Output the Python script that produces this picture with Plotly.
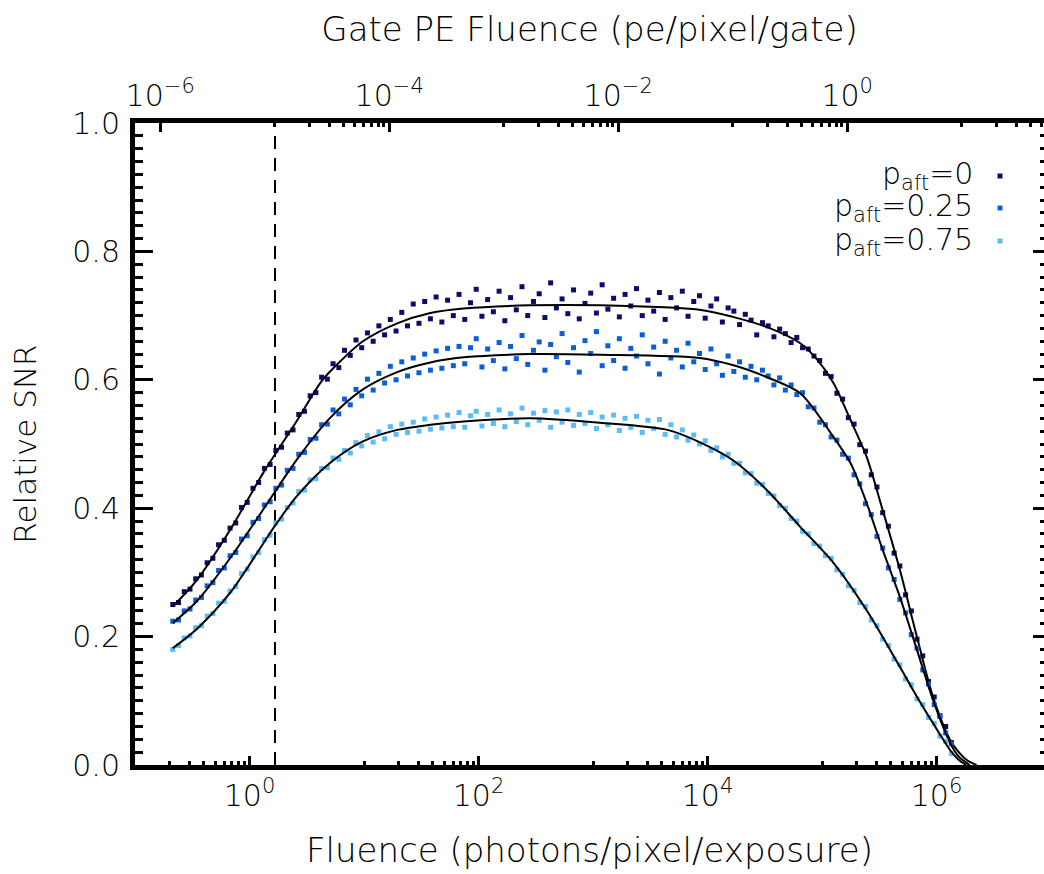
import numpy as np
import plotly.graph_objects as go

# ---------------- data ----------------
# log10 of fluence (photons/pixel/exposure) of the simulated points
LOG_FLUENCE = [
    -0.67, -0.62, -0.57, -0.52, -0.47, -0.42, -0.37, -0.32, -0.27, -0.22,
    -0.17, -0.12, -0.07, -0.02, 0.03, 0.08, 0.13, 0.18, 0.23, 0.28,
    0.33, 0.38, 0.43, 0.48, 0.53, 0.58, 0.63, 0.68, 0.73, 0.78,
    0.83, 0.88, 0.93, 0.98, 1.03, 1.08, 1.13, 1.18, 1.23, 1.28,
    1.33, 1.38, 1.43, 1.48, 1.53, 1.58, 1.63, 1.68, 1.73, 1.78,
    1.83, 1.88, 1.93, 1.98, 2.03, 2.08, 2.13, 2.18, 2.23, 2.28,
    2.33, 2.38, 2.43, 2.48, 2.53, 2.58, 2.63, 2.68, 2.73, 2.78,
    2.83, 2.88, 2.93, 2.98, 3.03, 3.08, 3.13, 3.18, 3.23, 3.28,
    3.33, 3.38, 3.43, 3.48, 3.53, 3.58, 3.63, 3.68, 3.73, 3.78,
    3.83, 3.88, 3.93, 3.98, 4.03, 4.08, 4.13, 4.18, 4.23, 4.28,
    4.33, 4.38, 4.43, 4.48, 4.53, 4.58, 4.63, 4.68, 4.73, 4.78,
    4.83, 4.88, 4.93, 4.98, 5.03, 5.08, 5.13, 5.18, 5.23, 5.28,
    5.33, 5.38, 5.43, 5.48, 5.53, 5.58, 5.63, 5.68, 5.73, 5.78,
    5.83, 5.88, 5.93, 5.98, 6.03, 6.08, 6.13,
]

SNR_P0 = [
    0.250, 0.253, 0.270, 0.274, 0.290, 0.296, 0.315, 0.322, 0.343, 0.350,
    0.369, 0.377, 0.401, 0.409, 0.431, 0.440, 0.462, 0.468, 0.490, 0.495,
    0.517, 0.522, 0.546, 0.551, 0.575, 0.580, 0.604, 0.601, 0.625, 0.619,
    0.646, 0.638, 0.662, 0.650, 0.673, 0.660, 0.684, 0.670, 0.694, 0.676,
    0.705, 0.684, 0.718, 0.688, 0.722, 0.695, 0.729, 0.690, 0.724, 0.700,
    0.733, 0.694, 0.720, 0.741, 0.699, 0.725, 0.706, 0.738, 0.692, 0.728,
    0.709, 0.745, 0.700, 0.722, 0.734, 0.697, 0.751, 0.712, 0.726, 0.703,
    0.740, 0.695, 0.719, 0.735, 0.704, 0.748, 0.710, 0.727, 0.698, 0.733,
    0.715, 0.742, 0.700, 0.724, 0.707, 0.736, 0.694, 0.728, 0.712, 0.738,
    0.699, 0.722, 0.731, 0.696, 0.715, 0.726, 0.690, 0.712, 0.707, 0.686,
    0.702, 0.693, 0.670, 0.689, 0.684, 0.667, 0.679, 0.672, 0.658, 0.666,
    0.650, 0.648, 0.637, 0.630, 0.610, 0.605, 0.579, 0.570, 0.541, 0.531,
    0.499, 0.489, 0.452, 0.433, 0.393, 0.372, 0.330, 0.310, 0.265, 0.240,
    0.196, 0.170, 0.130, 0.106, 0.076, 0.060, 0.035,
]

SNR_P025 = [
    0.224, 0.226, 0.240, 0.243, 0.257, 0.261, 0.279, 0.284, 0.303, 0.307,
    0.326, 0.331, 0.352, 0.357, 0.378, 0.384, 0.405, 0.410, 0.431, 0.436,
    0.459, 0.462, 0.484, 0.487, 0.507, 0.509, 0.530, 0.531, 0.553, 0.547,
    0.570, 0.561, 0.585, 0.575, 0.601, 0.584, 0.610, 0.595, 0.621, 0.600,
    0.628, 0.606, 0.634, 0.611, 0.640, 0.615, 0.645, 0.618, 0.649, 0.622,
    0.652, 0.625, 0.650, 0.664, 0.620, 0.648, 0.630, 0.658, 0.617, 0.652,
    0.633, 0.669, 0.624, 0.646, 0.659, 0.615, 0.655, 0.636, 0.672, 0.627,
    0.650, 0.612, 0.661, 0.641, 0.675, 0.622, 0.653, 0.630, 0.664, 0.618,
    0.649, 0.637, 0.670, 0.625, 0.651, 0.609, 0.660, 0.634, 0.646, 0.620,
    0.657, 0.628, 0.641, 0.616, 0.648, 0.625, 0.607, 0.637, 0.613, 0.628,
    0.604, 0.621, 0.600, 0.615, 0.606, 0.592, 0.603, 0.584, 0.592, 0.577,
    0.580, 0.558, 0.556, 0.534, 0.530, 0.511, 0.506, 0.484, 0.478, 0.452,
    0.438, 0.407, 0.390, 0.356, 0.338, 0.307, 0.289, 0.258, 0.237, 0.203,
    0.182, 0.148, 0.126, 0.094, 0.077, 0.050, 0.033,
]

SNR_P075 = [
    0.180, 0.186, 0.198, 0.201, 0.214, 0.217, 0.232, 0.236, 0.252, 0.255,
    0.271, 0.278, 0.298, 0.305, 0.324, 0.331, 0.351, 0.358, 0.377, 0.383,
    0.401, 0.408, 0.426, 0.428, 0.444, 0.446, 0.462, 0.463, 0.478, 0.476,
    0.490, 0.486, 0.502, 0.497, 0.513, 0.503, 0.519, 0.508, 0.527, 0.515,
    0.531, 0.518, 0.534, 0.520, 0.539, 0.523, 0.542, 0.525, 0.545, 0.527,
    0.549, 0.526, 0.544, 0.551, 0.528, 0.546, 0.532, 0.553, 0.527, 0.547,
    0.535, 0.556, 0.530, 0.548, 0.537, 0.552, 0.526, 0.550, 0.534, 0.553,
    0.529, 0.546, 0.532, 0.549, 0.524, 0.542, 0.530, 0.545, 0.521, 0.540,
    0.526, 0.543, 0.518, 0.537, 0.524, 0.538, 0.515, 0.530, 0.511, 0.522,
    0.506, 0.514, 0.500, 0.505, 0.490, 0.494, 0.480, 0.484, 0.470, 0.470,
    0.455, 0.454, 0.439, 0.437, 0.423, 0.419, 0.404, 0.400, 0.384, 0.380,
    0.364, 0.360, 0.345, 0.341, 0.326, 0.322, 0.304, 0.297, 0.279, 0.272,
    0.253, 0.247, 0.226, 0.217, 0.196, 0.186, 0.165, 0.156, 0.134, 0.125,
    0.103, 0.094, 0.074, 0.065, 0.045, 0.037, 0.018,
]

# fitted model curves (black lines): log10 fluence and relative SNR
FIT_P0_LOG = [-0.67, -0.46, -0.17, 0.12, 0.41, 0.63, 0.80, 0.99, 1.29, 1.58,
              1.87, 2.45, 3.06, 3.93, 4.22, 4.52, 4.81, 4.96, 5.10, 5.25,
              5.39, 5.53, 5.68, 5.83, 5.97, 6.12, 6.20, 6.27, 6.35]
FIT_P0 = [0.247, 0.288, 0.366, 0.455, 0.535, 0.598, 0.630, 0.660, 0.688, 0.704,
          0.711, 0.716, 0.716, 0.709, 0.698, 0.682, 0.657, 0.631, 0.595, 0.537,
          0.480, 0.397, 0.304, 0.199, 0.106, 0.039, 0.019, 0.007, 0.0]

FIT_P025_LOG = [-0.67, -0.46, -0.17, 0.12, 0.41, 0.70, 0.99, 1.29, 1.58, 1.87,
                2.45, 3.06, 3.93, 4.22, 4.52, 4.81, 5.10, 5.25, 5.39, 5.53,
                5.68, 5.83, 5.97, 6.12, 6.20, 6.29]
FIT_P025 = [0.221, 0.255, 0.322, 0.398, 0.475, 0.540, 0.585, 0.612, 0.627, 0.635,
            0.640, 0.639, 0.634, 0.623, 0.604, 0.579, 0.511, 0.470, 0.408, 0.335,
            0.262, 0.179, 0.101, 0.034, 0.012, 0.0]

FIT_P075_LOG = [-0.67, -0.46, -0.17, 0.12, 0.22, 0.41, 0.70, 0.99, 1.29, 1.58,
                1.87, 2.45, 3.06, 3.65, 3.93, 4.22, 4.52, 4.81, 5.10, 5.39,
                5.68, 5.83, 5.97, 6.12, 6.20, 6.26]
FIT_P075 = [0.182, 0.212, 0.268, 0.345, 0.372, 0.418, 0.470, 0.504, 0.522, 0.530,
            0.535, 0.540, 0.533, 0.522, 0.503, 0.475, 0.428, 0.371, 0.315, 0.241,
            0.153, 0.106, 0.065, 0.023, 0.007, 0.0]

SERIES_NAMES = ["p<sub>aft</sub>=0", "p<sub>aft</sub>=0.25", "p<sub>aft</sub>=0.75"]
SERIES_COLORS = ["#0c0c6c", "#0b5ed8", "#5bbcf8"]

DASH_FLUENCE = 1.67          # vertical dashed marker (photons/pixel/exposure)
GATE_OFFSET_DEC = 5.22       # top axis = bottom axis shifted by this many decades

BOTTOM_TICK_EXP = [0, 2, 4, 6]
TOP_TICK_EXP = [-6, -4, -2, 0]
Y_TICKS = [0.0, 0.2, 0.4, 0.6, 0.8, 1.0]

# ---------------- figure ----------------
W, H = 1044, 874
L, R, T, B = 135, 0, 123, 109
PW, PH = W - L - R, H - T - B
FONT = "DejaVu Sans"
WEIGHT = 200


def px_x(px):
    return (px - L) / PW


def px_y(py):
    return (T + PH - py) / PH


x_pts = np.power(10.0, LOG_FLUENCE)
fits = [(FIT_P0_LOG, FIT_P0), (FIT_P025_LOG, FIT_P025), (FIT_P075_LOG, FIT_P075)]
pts = [SNR_P0, SNR_P025, SNR_P075]

fig = go.Figure()

# dashed vertical marker
fig.add_trace(go.Scatter(x=[DASH_FLUENCE, DASH_FLUENCE], y=[0, 1], mode="lines",
                         line=dict(color="black", width=2, dash="13px,9px"),
                         hoverinfo="skip", showlegend=False))

for (flog, fy), py_, col in zip(fits, pts, SERIES_COLORS):
    fig.add_trace(go.Scatter(x=x_pts, y=py_, mode="markers",
                             marker=dict(symbol="square", size=5, color=col,
                                         line=dict(width=0)),
                             showlegend=False))
    fig.add_trace(go.Scatter(x=np.power(10.0, flog), y=fy, mode="lines",
                             line=dict(color="black", width=2, shape="spline",
                                       smoothing=0.8),
                             showlegend=False))

# helper traces so the secondary axes exist
fig.add_trace(go.Scatter(x=[1e-3], y=[None], xaxis="x2", yaxis="y",
                         mode="markers", showlegend=False, hoverinfo="skip"))
fig.add_trace(go.Scatter(x=[1.0], y=[None], xaxis="x", yaxis="y2",
                         mode="markers", showlegend=False, hoverinfo="skip"))

bottom_range = [-1.0, -1.0 + PW / 114.5]
top_range = [bottom_range[0] - GATE_OFFSET_DEC, bottom_range[1] - GATE_OFFSET_DEC]


def minor_vals(decades):
    return [k * 10.0 ** d for d in decades for k in range(1, 10)]


def f(size):
    return dict(family=FONT, size=size, color="black", weight=WEIGHT)


axis_common = dict(showgrid=False, zeroline=False, showline=True, linewidth=5,
                   linecolor="black", ticks="inside", tickcolor="black")

fig.update_layout(
    width=W, height=H,
    margin=dict(l=L, r=R, t=T, b=B, autoexpand=False),
    paper_bgcolor="white", plot_bgcolor="white",
    font=f(30),
    showlegend=False,
    xaxis=dict(type="log", range=bottom_range, **axis_common,
               ticklen=9, tickwidth=3,
               tickvals=[10.0 ** e for e in BOTTOM_TICK_EXP],
               ticktext=["10<sup>%d</sup>" % e for e in BOTTOM_TICK_EXP],
               tickfont=f(30),
               minor=dict(tickmode="array", tickvals=minor_vals([-1, 1, 3, 5]),
                          ticks="inside", ticklen=4, tickwidth=3, tickcolor="black"),
               title=dict(text="Fluence (photons/pixel/exposure)",
                          font=f(34), standoff=28)),
    xaxis2=dict(type="log", range=top_range, overlaying="x", side="top",
                anchor="y", **axis_common,
                ticklen=9, tickwidth=3,
                tickvals=[10.0 ** e for e in TOP_TICK_EXP],
                ticktext=[("10<sup>\u2212%d</sup>" % -e) if e < 0 else "10<sup>0</sup>"
                          for e in TOP_TICK_EXP],
                tickfont=f(30),
                minor=dict(tickmode="array", tickvals=minor_vals([-5, -3, -1, 1]),
                           ticks="inside", ticklen=4, tickwidth=3, tickcolor="black"),
                title=dict(text="Gate PE Fluence (pe/pixel/gate)",
                           font=f(34), standoff=24)),
    yaxis=dict(range=[0, 1], **axis_common, ticklen=18, tickwidth=3,
               tickvals=Y_TICKS, ticktext=["%.1f" % v for v in Y_TICKS],
               tickfont=f(30), ticklabelstandoff=4,
               minor=dict(dtick=0.02, ticks="inside", ticklen=8, tickwidth=3,
                          tickcolor="black"),
               title=dict(text="Relative SNR", font=f(31), standoff=28)),
    yaxis2=dict(range=[0, 1], overlaying="y", side="right", anchor="x",
                showgrid=False, zeroline=False, showline=False,
                ticks="inside", ticklen=11, tickwidth=3, tickcolor="black",
                tickvals=Y_TICKS, showticklabels=False,
                minor=dict(dtick=0.02, ticks="inside", ticklen=4, tickwidth=3,
                           tickcolor="black")),
)

# legend (text right-aligned, square marker to the right)
legend_rows = [176, 208, 241]
for name, col, row in zip(SERIES_NAMES, SERIES_COLORS, legend_rows):
    fig.add_annotation(x=px_x(975), y=px_y(row), xref="paper", yref="paper",
                       text=name, showarrow=False, xanchor="right", yanchor="middle",
                       font=f(30))
    fig.add_shape(type="rect", xref="paper", yref="paper",
                  x0=px_x(997.5), x1=px_x(1002.5), y0=px_y(row + 2.5), y1=px_y(row - 2.5),
                  fillcolor=col, line=dict(width=0))

fig.write_html("out.html")
